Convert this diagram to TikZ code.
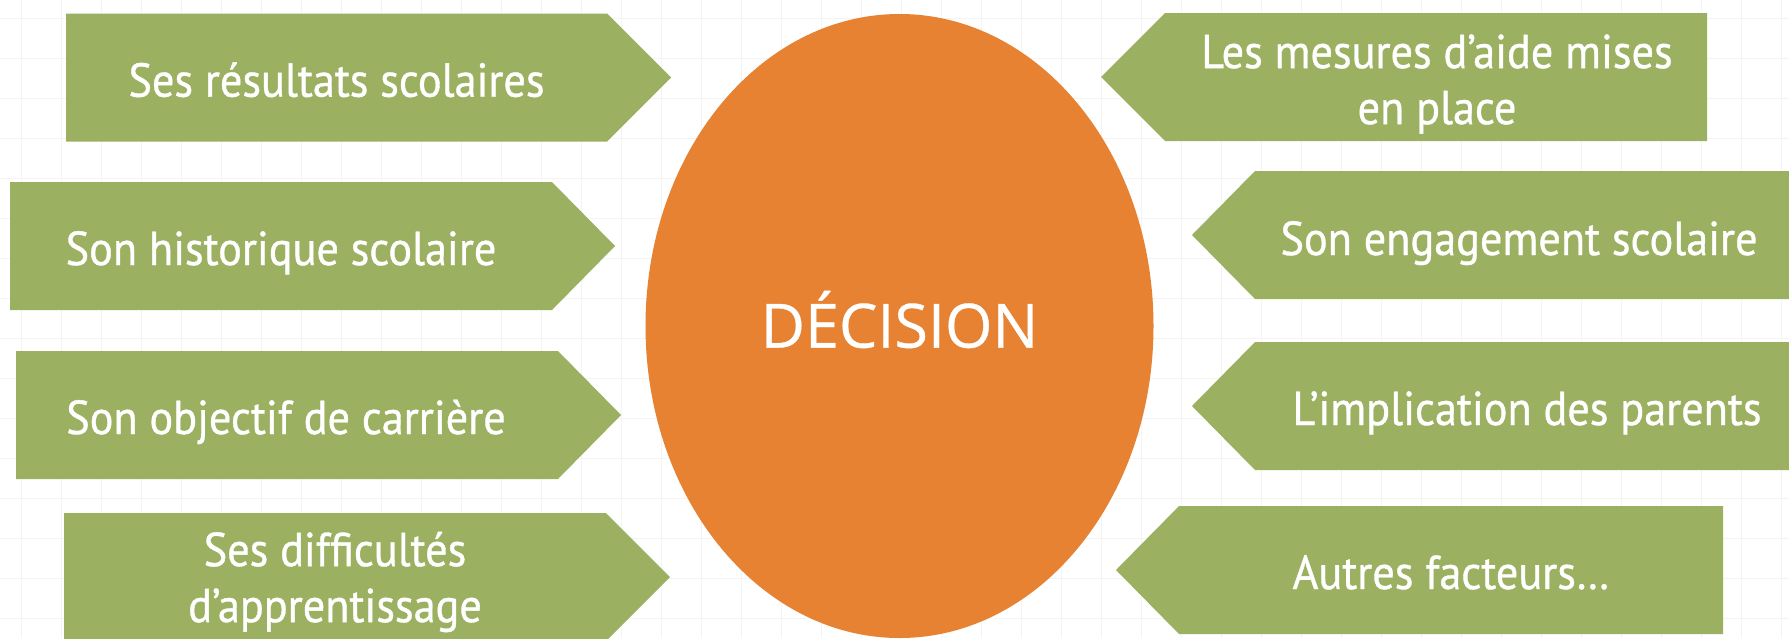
\documentclass[tikz,border=0pt]{standalone}
\usepackage{fontspec}
\setmainfont{PT Sans}[FakeStretch=0.93,FakeBold=0.8]
\newfontfamily\decfont{Open Sans}[FakeBold=0.6]
\usetikzlibrary{shapes.geometric}
\definecolor{boxgreen}{RGB}{155,176,96}
\definecolor{decorange}{RGB}{230,130,50}
\definecolor{gridgray}{RGB}{244,244,244}
\tikzset{
  gridline/.style={draw=gridgray, line width=0.5pt},
  arrowfill/.style={fill=boxgreen},
  boxtext/.style={text=white, font=\fontsize{23.8pt}{28pt}\selectfont, align=center, inner sep=0pt},
  decnode/.style={ellipse, fill=decorange, inner sep=0pt, minimum width=254pt, minimum height=312pt,
    text=white, font=\decfont\fontsize{30.5pt}{34pt}\selectfont, text height=21.6pt, text depth=0pt}
}
\begin{document}
\begin{tikzpicture}[x=0.5pt,y=-0.5pt]
\useasboundingbox (0,0) rectangle (1789,638);
\clip (0,0) rectangle (1789,638);
\fill[white] (0,0) rectangle (1789,638);
\foreach \i in {0,...,44} \draw[gridline] ({21.7+40*\i},0) -- ({21.7+40*\i},638);
\foreach \j in {0,...,15} \draw[gridline] (0,{18+40*\j}) -- (1789,{18+40*\j});

% ellipse
\node[decnode] (dec) at (899.5,326) {DÉCISION};

% left arrows (pointing right)
\fill[arrowfill] (66,13.5) -- (607,13.5) -- (671,77.5) -- (607,141.5) -- (66,141.5) -- cycle;
\fill[arrowfill] (10,182) -- (552,182) -- (615,246) -- (552,310) -- (10,310) -- cycle;
\fill[arrowfill] (16,351) -- (558,351) -- (621,415) -- (558,479) -- (16,479) -- cycle;
\fill[arrowfill] (64,513) -- (606,513) -- (670,577) -- (606,641) -- (64,641) -- cycle;
% right arrows (pointing left)
\fill[arrowfill] (1101,77) -- (1165,13) -- (1707,13) -- (1707,141) -- (1165,141) -- cycle;
\fill[arrowfill] (1192,235) -- (1255,171) -- (1797,171) -- (1797,299) -- (1255,299) -- cycle;
\fill[arrowfill] (1192,406) -- (1255,342) -- (1797,342) -- (1797,470) -- (1255,470) -- cycle;
\fill[arrowfill] (1116,570) -- (1179,506) -- (1723,506) -- (1723,634) -- (1179,634) -- cycle;

% texts
\node[boxtext, anchor=base] (l1) at (336.5,96.7) {Ses résultats scolaires};
\node[boxtext, anchor=base] (l2) at (281,265) {Son historique scolaire};
\node[boxtext, anchor=base] (l3) at (286,434) {Son objectif de carrière};
\node[boxtext] (l4) at (335,582) {Ses difficultés\\d’apprentissage};
\node[boxtext] (r1) at (1437,84) {Les mesures d’aide mises\\en place};
\node[boxtext, anchor=base] (r2) at (1519,255) {Son engagement scolaire};
\node[boxtext, anchor=base] (r3) at (1527,425) {L’implication des parents};
\node[boxtext, anchor=base] (r4) at (1451,589) {Autres facteurs…};
\end{tikzpicture}
\end{document}
